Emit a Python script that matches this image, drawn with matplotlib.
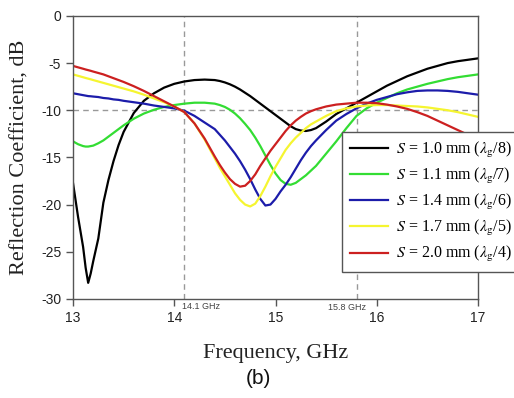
import matplotlib
matplotlib.use("Agg")
import matplotlib.pyplot as plt

plt.rcParams['mathtext.fontset'] = 'stix'

freq = [13.00, 13.05, 13.10, 13.125, 13.15, 13.175, 13.20, 13.25, 13.30, 13.35, 13.40, 13.45, 13.50,
        13.6, 13.7, 13.8, 13.9, 14.0, 14.1, 14.2, 14.3,
        14.4, 14.45, 14.5, 14.55, 14.6, 14.65, 14.7, 14.75, 14.8, 14.85, 14.9, 14.95,
        15.0, 15.05, 15.1, 15.15, 15.2, 15.25, 15.3, 15.35, 15.4,
        15.5, 15.6, 15.7, 15.8, 15.9, 16.0, 16.1, 16.2, 16.3, 16.4, 16.5, 16.6, 16.7,
        16.8, 16.9, 17.0]

s10 = [-17.7, -21.3, -24.5, -26.7, -28.3, -27.3, -26.0, -23.6, -19.8, -17.4, -15.4, -13.7, -12.3,
       -10.3, -9.0, -8.2, -7.6, -7.2, -6.95, -6.8, -6.75,
       -6.8, -6.9, -7.05, -7.25, -7.5, -7.8, -8.15, -8.5, -8.9, -9.3, -9.7, -10.1,
       -10.5, -10.9, -11.3, -11.7, -12.0, -12.15, -12.2, -12.1, -11.9,
       -11.2, -10.4, -9.8, -9.2, -8.6, -8.0, -7.4, -6.9, -6.4, -6.0, -5.6, -5.3, -5.0,
       -4.8, -4.65, -4.5]

s11 = [-13.3, -13.6, -13.8, -13.85, -13.85, -13.8, -13.75, -13.5, -13.2, -12.8, -12.4, -12.0, -11.6,
       -10.9, -10.35, -9.95, -9.65, -9.45, -9.3, -9.2, -9.2,
       -9.3, -9.45, -9.65, -9.95, -10.35, -10.85, -11.45, -12.1, -12.9, -13.8, -14.8, -15.8,
       -16.7, -17.4, -17.8, -17.9, -17.7, -17.3, -16.9, -16.4, -15.9,
       -14.6, -13.3, -11.9, -10.6, -9.8, -9.2, -8.7, -8.2, -7.8, -7.5, -7.2, -6.95, -6.7,
       -6.5, -6.35, -6.2]

s14 = [-8.2, -8.3, -8.4, -8.45, -8.5, -8.52, -8.55, -8.6, -8.7, -8.75, -8.85, -8.9, -9.0,
       -9.15, -9.3, -9.5, -9.65, -9.8, -10.05, -10.6, -11.3,
       -12.0, -12.6, -13.2, -13.9, -14.6, -15.4, -16.3, -17.3, -18.4, -19.4, -20.1, -20.0,
       -19.4, -18.6, -17.9, -17.1, -16.2, -15.3, -14.5, -13.8, -13.2,
       -12.1, -11.1, -10.4, -9.8, -9.3, -8.9, -8.6, -8.3, -8.1, -7.95, -7.9, -7.9, -7.95,
       -8.05, -8.2, -8.35]

s17 = [-6.2, -6.35, -6.5, -6.58, -6.65, -6.72, -6.8, -6.95, -7.1, -7.25, -7.4, -7.55, -7.7,
       -8.0, -8.35, -8.75, -9.15, -9.6, -10.2, -11.4, -13.1,
       -15.1, -16.1, -17.0, -17.9, -18.8, -19.5, -20.0, -20.2, -19.9, -19.1, -18.1, -17.0,
       -16.0, -15.1, -14.2, -13.5, -12.9, -12.4, -11.9, -11.5, -11.2,
       -10.6, -10.1, -9.8, -9.6, -9.5, -9.45, -9.45, -9.5, -9.55, -9.6, -9.7, -9.85, -10.0,
       -10.2, -10.45, -10.7]

s20 = [-5.3, -5.45, -5.6, -5.68, -5.75, -5.82, -5.9, -6.05, -6.2, -6.4, -6.6, -6.8, -7.0,
       -7.45, -7.95, -8.5, -9.05, -9.6, -10.2, -11.4, -13.0,
       -14.9, -15.8, -16.6, -17.3, -17.8, -18.1, -18.0, -17.5, -16.8, -15.9, -15.1, -14.3,
       -13.6, -12.9, -12.2, -11.6, -11.1, -10.7, -10.35, -10.1, -9.9,
       -9.6, -9.4, -9.3, -9.2, -9.2, -9.25, -9.4, -9.6, -9.85, -10.2, -10.6, -11.1, -11.6,
       -12.1, -12.6, -13.1]

labels = [r"$S$ = 1.0 mm ($\lambda_{\rm g}$/8)",
          r"$S$ = 1.1 mm ($\lambda_{\rm g}$/7)",
          r"$S$ = 1.4 mm ($\lambda_{\rm g}$/6)",
          r"$S$ = 1.7 mm ($\lambda_{\rm g}$/5)",
          r"$S$ = 2.0 mm ($\lambda_{\rm g}$/4)"]
colors = ['#000000', '#33dd33', '#1c1caa', '#f5f530', '#cc2020']
series = [s10, s11, s14, s17, s20]

xticks = [13, 14, 15, 16, 17]
yticks = [0, -5, -10, -15, -20, -25, -30]
marker_freqs = [14.1, 15.8]
marker_labels = ["14.1 GHz", "15.8 GHz"]

fig = plt.figure(figsize=(5.14, 3.98), dpi=100)
ax = fig.add_axes([0.142, 0.249, 0.788, 0.711])

ax.axhline(-10, color='#999999', lw=1.0, ls=(0, (4, 3)), zorder=1)
for f in marker_freqs:
    ax.axvline(f, color='#999999', lw=1.0, ls=(0, (4, 3)), zorder=1)

for s, c, lab in zip(series, colors, labels):
    ax.plot(freq, s, color=c, lw=1.6, label=lab, zorder=2)

ax.set_xlim(13, 17)
ax.set_ylim(-30, 0)
ax.set_xticks(xticks)
ax.set_yticks(yticks)
ax.set_xticklabels([str(t) for t in xticks], fontsize=10, family='Liberation Sans', color='#222222')
ax.set_yticklabels([str(t) for t in yticks], fontsize=10, family='Liberation Sans', color='#222222')
ax.tick_params(direction='out', length=5, width=1, colors='#555555', labelcolor='#222222')
for sp in ax.spines.values():
    sp.set_color('#555555')
    sp.set_linewidth(1)

ax.set_xlabel("Frequency, GHz", family='Liberation Serif', fontsize=16, color='#222222', labelpad=14)
ax.set_ylabel("Reflection Coefficient, dB", family='Liberation Serif', fontsize=16, color='#222222', labelpad=8)

ax.text(14.08, -30.35, marker_labels[0], fontsize=6.5, family='Liberation Sans',
        color='#444444', ha='left', va='top')
ax.text(15.71, -30.4, marker_labels[1], fontsize=6.5, family='Liberation Sans',
        color='#444444', ha='center', va='top')

fig.text(0.502, 0.05, "(b)", fontsize=15, family='Liberation Sans', ha='center', va='center', color='#111111')

leg = ax.legend(loc='upper left', bbox_to_anchor=(0.664, 0.590), borderaxespad=0,
                prop={'family': 'Liberation Serif', 'size': 11.5}, frameon=True,
                fancybox=False, framealpha=1, edgecolor='#555555',
                handlelength=2.4, handletextpad=0.5, labelspacing=0.38, borderpad=0.5)
leg.get_frame().set_linewidth(1)
leg.set_zorder(5)

fig.savefig("out.png", dpi=100)
